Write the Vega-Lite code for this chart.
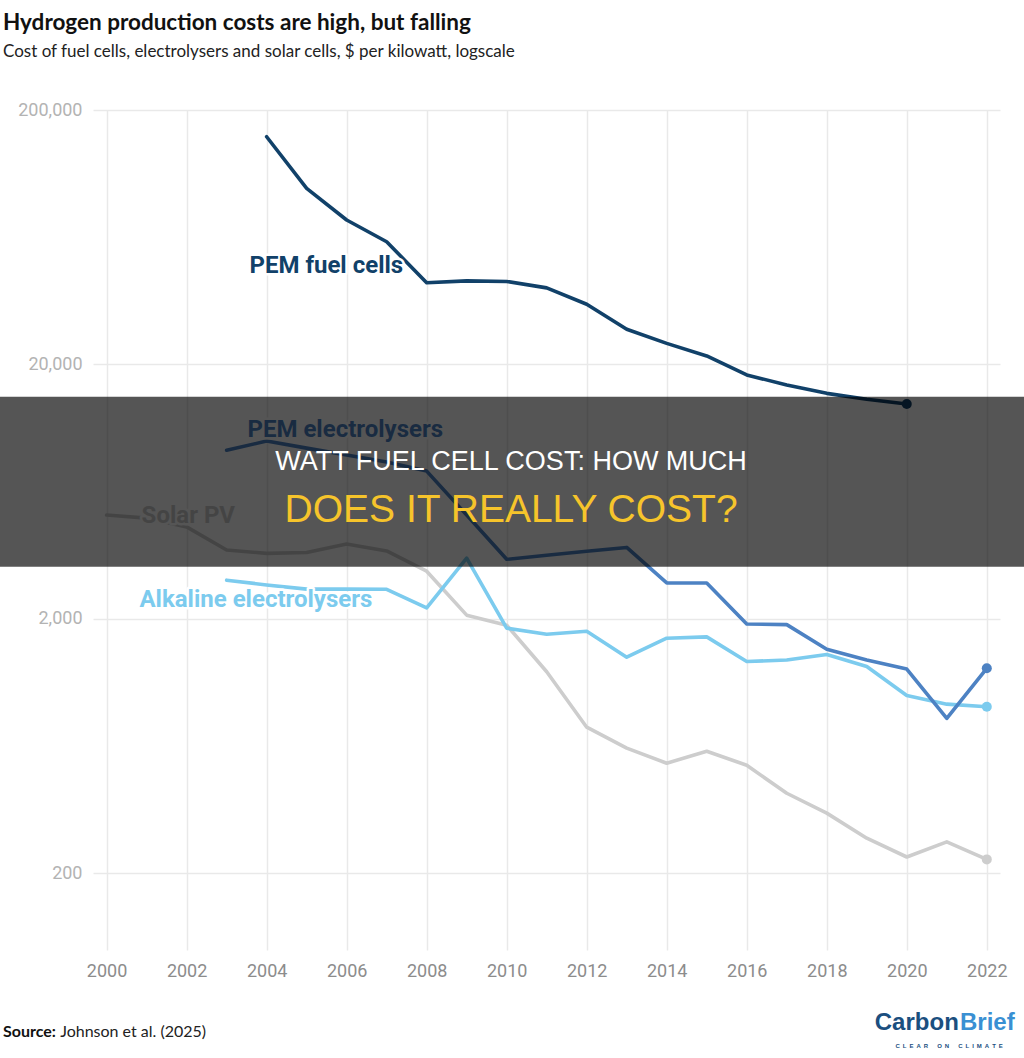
{
  "$schema": "https://vega.github.io/schema/vega-lite/v6.json",
  "width": 907,
  "height": 840,
  "autosize": {"type": "none"},
  "padding": {"left": 93, "top": 110, "right": 24, "bottom": 108},
  "background": "white",
  "config": {
    "view": {"stroke": null},
    "axis": {
      "title": null,
      "ticks": false,
      "domain": false,
      "grid": true,
      "gridColor": "#e9e9e9",
      "gridWidth": 1.5,
      "labelFont": "Roboto",
      "labelFontSize": 18
    }
  },
  "title": {
    "text": "Hydrogen production costs are high, but falling",
    "subtitle": "Cost of fuel cells, electrolysers and solar cells, $ per kilowatt, logscale",
    "anchor": "start",
    "frame": "group",
    "dx": -90,
    "offset": 41,
    "font": "Lato",
    "fontSize": 22.5,
    "fontWeight": "bold",
    "color": "#111111",
    "subtitleFont": "Lato",
    "subtitleFontSize": 17,
    "subtitleColor": "#222222",
    "subtitlePadding": 10
  },
  "datasets": {
    "series": [
      {"series": "Solar PV", "year": 2000, "cost": 5120},
      {"series": "Solar PV", "year": 2001, "cost": 4980},
      {"series": "Solar PV", "year": 2002, "cost": 4600},
      {"series": "Solar PV", "year": 2003, "cost": 3730},
      {"series": "Solar PV", "year": 2004, "cost": 3620},
      {"series": "Solar PV", "year": 2005, "cost": 3650},
      {"series": "Solar PV", "year": 2006, "cost": 3940},
      {"series": "Solar PV", "year": 2007, "cost": 3700},
      {"series": "Solar PV", "year": 2008, "cost": 3080},
      {"series": "Solar PV", "year": 2009, "cost": 2070},
      {"series": "Solar PV", "year": 2010, "cost": 1890},
      {"series": "Solar PV", "year": 2011, "cost": 1240},
      {"series": "Solar PV", "year": 2012, "cost": 751},
      {"series": "Solar PV", "year": 2013, "cost": 621},
      {"series": "Solar PV", "year": 2014, "cost": 542},
      {"series": "Solar PV", "year": 2015, "cost": 604},
      {"series": "Solar PV", "year": 2016, "cost": 532},
      {"series": "Solar PV", "year": 2017, "cost": 413},
      {"series": "Solar PV", "year": 2018, "cost": 345},
      {"series": "Solar PV", "year": 2019, "cost": 275},
      {"series": "Solar PV", "year": 2020, "cost": 232},
      {"series": "Solar PV", "year": 2021, "cost": 266},
      {"series": "Solar PV", "year": 2022, "cost": 227},
      {"series": "Alkaline electrolysers", "year": 2003, "cost": 2840},
      {"series": "Alkaline electrolysers", "year": 2004, "cost": 2720},
      {"series": "Alkaline electrolysers", "year": 2005, "cost": 2620},
      {"series": "Alkaline electrolysers", "year": 2006, "cost": 2620},
      {"series": "Alkaline electrolysers", "year": 2007, "cost": 2615},
      {"series": "Alkaline electrolysers", "year": 2008, "cost": 2210},
      {"series": "Alkaline electrolysers", "year": 2009, "cost": 3470},
      {"series": "Alkaline electrolysers", "year": 2010, "cost": 1840},
      {"series": "Alkaline electrolysers", "year": 2011, "cost": 1740},
      {"series": "Alkaline electrolysers", "year": 2012, "cost": 1790},
      {"series": "Alkaline electrolysers", "year": 2013, "cost": 1415},
      {"series": "Alkaline electrolysers", "year": 2014, "cost": 1680},
      {"series": "Alkaline electrolysers", "year": 2015, "cost": 1700},
      {"series": "Alkaline electrolysers", "year": 2016, "cost": 1360},
      {"series": "Alkaline electrolysers", "year": 2017, "cost": 1380},
      {"series": "Alkaline electrolysers", "year": 2018, "cost": 1450},
      {"series": "Alkaline electrolysers", "year": 2019, "cost": 1300},
      {"series": "Alkaline electrolysers", "year": 2020, "cost": 1000},
      {"series": "Alkaline electrolysers", "year": 2021, "cost": 925},
      {"series": "Alkaline electrolysers", "year": 2022, "cost": 903},
      {"series": "PEM electrolysers", "year": 2003, "cost": 9200},
      {"series": "PEM electrolysers", "year": 2004, "cost": 10000},
      {"series": "PEM electrolysers", "year": 2005, "cost": 9380},
      {"series": "PEM electrolysers", "year": 2006, "cost": 8810},
      {"series": "PEM electrolysers", "year": 2007, "cost": 8270},
      {"series": "PEM electrolysers", "year": 2008, "cost": 7620},
      {"series": "PEM electrolysers", "year": 2009, "cost": 5120},
      {"series": "PEM electrolysers", "year": 2010, "cost": 3430},
      {"series": "PEM electrolysers", "year": 2011, "cost": 3560},
      {"series": "PEM electrolysers", "year": 2012, "cost": 3690},
      {"series": "PEM electrolysers", "year": 2013, "cost": 3820},
      {"series": "PEM electrolysers", "year": 2014, "cost": 2770},
      {"series": "PEM electrolysers", "year": 2015, "cost": 2770},
      {"series": "PEM electrolysers", "year": 2016, "cost": 1910},
      {"series": "PEM electrolysers", "year": 2017, "cost": 1900},
      {"series": "PEM electrolysers", "year": 2018, "cost": 1520},
      {"series": "PEM electrolysers", "year": 2019, "cost": 1380},
      {"series": "PEM electrolysers", "year": 2020, "cost": 1270},
      {"series": "PEM electrolysers", "year": 2021, "cost": 813},
      {"series": "PEM electrolysers", "year": 2022, "cost": 1280},
      {"series": "PEM fuel cells", "year": 2004, "cost": 157000},
      {"series": "PEM fuel cells", "year": 2005, "cost": 98400},
      {"series": "PEM fuel cells", "year": 2006, "cost": 73900},
      {"series": "PEM fuel cells", "year": 2007, "cost": 60700},
      {"series": "PEM fuel cells", "year": 2008, "cost": 41900},
      {"series": "PEM fuel cells", "year": 2009, "cost": 42600},
      {"series": "PEM fuel cells", "year": 2010, "cost": 42400},
      {"series": "PEM fuel cells", "year": 2011, "cost": 40000},
      {"series": "PEM fuel cells", "year": 2012, "cost": 34500},
      {"series": "PEM fuel cells", "year": 2013, "cost": 27500},
      {"series": "PEM fuel cells", "year": 2014, "cost": 24200},
      {"series": "PEM fuel cells", "year": 2015, "cost": 21600},
      {"series": "PEM fuel cells", "year": 2016, "cost": 18200},
      {"series": "PEM fuel cells", "year": 2017, "cost": 16600},
      {"series": "PEM fuel cells", "year": 2018, "cost": 15400},
      {"series": "PEM fuel cells", "year": 2019, "cost": 14600},
      {"series": "PEM fuel cells", "year": 2020, "cost": 13980}
    ],
    "endpoints": [
      {"series": "Solar PV", "year": 2022, "cost": 227},
      {"series": "Alkaline electrolysers", "year": 2022, "cost": 903},
      {"series": "PEM electrolysers", "year": 2022, "cost": 1280},
      {"series": "PEM fuel cells", "year": 2020, "cost": 13980}
    ],
    "labels": [
      {"series": "Solar PV", "year": 2000.875, "cost": 4772},
      {"series": "Alkaline electrolysers", "year": 2000.82, "cost": 2231},
      {"series": "PEM electrolysers", "year": 2003.52, "cost": 10330},
      {"series": "PEM fuel cells", "year": 2003.57, "cost": 45870}
    ]
  },
  "layer": [
    {
      "data": {"name": "series"},
      "mark": {"type": "line", "strokeWidth": 3.6, "strokeJoin": "round", "strokeCap": "round"},
      "encoding": {
        "x": {
          "field": "year",
          "type": "quantitative",
          "scale": {"domain": [1999.66, 2022.33], "nice": false, "zero": false},
          "axis": {
            "values": [2000, 2002, 2004, 2006, 2008, 2010, 2012, 2014, 2016, 2018, 2020, 2022],
            "format": "d",
            "labelColor": "#8c8c8c",
            "labelPadding": 12
          }
        },
        "y": {
          "field": "cost",
          "type": "quantitative",
          "scale": {"type": "log", "domain": [100, 200000], "nice": false},
          "axis": {
            "values": [200, 2000, 20000, 200000],
            "format": ",",
            "labelColor": "#b3b3b3",
            "labelPadding": 11
          }
        },
        "color": {
          "field": "series",
          "type": "nominal",
          "scale": {
            "domain": ["Solar PV", "Alkaline electrolysers", "PEM electrolysers", "PEM fuel cells"],
            "range": ["#cdcdcd", "#7ccbee", "#4d82c3", "#114169"]
          },
          "legend": null
        }
      }
    },
    {
      "data": {"name": "endpoints"},
      "mark": {"type": "point", "filled": true, "opacity": 1, "size": 100},
      "encoding": {
        "x": {"field": "year", "type": "quantitative"},
        "y": {"field": "cost", "type": "quantitative"},
        "color": {"field": "series", "type": "nominal"}
      }
    },
    {
      "data": {"name": "labels"},
      "mark": {"type": "text", "font": "Roboto", "fontSize": 24, "fontWeight": "bold", "align": "left", "baseline": "alphabetic", "stroke": "white", "strokeWidth": 5, "strokeJoin": "round", "fill": "white"},
      "encoding": {
        "x": {"field": "year", "type": "quantitative"},
        "y": {"field": "cost", "type": "quantitative"},
        "text": {"field": "series"}
      }
    },
    {
      "data": {"name": "labels"},
      "mark": {"type": "text", "font": "Roboto", "fontSize": 24, "fontWeight": "bold", "align": "left", "baseline": "alphabetic"},
      "encoding": {
        "x": {"field": "year", "type": "quantitative"},
        "y": {"field": "cost", "type": "quantitative"},
        "text": {"field": "series"},
        "color": {
          "field": "series",
          "type": "nominal",
          "scale": {
            "domain": ["Solar PV", "Alkaline electrolysers", "PEM electrolysers", "PEM fuel cells"],
            "range": ["#c2c2c2", "#7ccbee", "#4d82c3", "#114169"]
          },
          "legend": null
        }
      }
    },
    {
      "data": {"values": [{}]},
      "mark": {"type": "rect", "color": "#000000", "opacity": 0.667},
      "encoding": {
        "x": {"datum": 1997.3},
        "x2": {"datum": 2023.0},
        "y": {"datum": 14928},
        "y2": {"datum": 3204}
      }
    },
    {
      "data": {"values": [{}]},
      "mark": {"type": "text", "text": "WATT FUEL CELL COST: HOW MUCH", "font": "Liberation Sans", "fontSize": 27, "color": "#ffffff", "align": "center", "baseline": "alphabetic"},
      "encoding": {"x": {"datum": 2010.11}, "y": {"datum": 7726}}
    },
    {
      "data": {"values": [{}]},
      "mark": {"type": "text", "text": "DOES IT REALLY COST?", "font": "Liberation Sans", "fontSize": 39, "color": "#f6c42b", "align": "center", "baseline": "alphabetic"},
      "encoding": {"x": {"datum": 2010.11}, "y": {"datum": 4817}}
    },
    {
      "data": {"values": [{}]},
      "mark": {"type": "text", "text": "Source:", "font": "Lato", "fontSize": 16, "fontWeight": "bold", "color": "#111111", "align": "left", "baseline": "alphabetic"},
      "encoding": {"x": {"datum": 1997.41}, "y": {"datum": 45.5}}
    },
    {
      "data": {"values": [{}]},
      "mark": {"type": "text", "text": "Johnson et al. (2025)", "font": "Lato", "fontSize": 16, "color": "#222222", "align": "left", "baseline": "alphabetic"},
      "encoding": {"x": {"datum": 1998.84}, "y": {"datum": 45.5}}
    },
    {
      "data": {"values": [{}]},
      "mark": {"type": "text", "text": "Carbon", "font": "Liberation Sans", "fontSize": 24, "fontWeight": "bold", "color": "#1b4f7f", "align": "right", "baseline": "alphabetic"},
      "encoding": {"x": {"datum": 2021.3}, "y": {"datum": 48.6}}
    },
    {
      "data": {"values": [{}]},
      "mark": {"type": "text", "text": "Brief", "font": "Liberation Sans", "fontSize": 24, "fontWeight": "bold", "color": "#3a90d3", "align": "left", "baseline": "alphabetic"},
      "encoding": {"x": {"datum": 2021.33}, "y": {"datum": 48.6}}
    },
    {
      "data": {"values": [{}]},
      "mark": {"type": "text", "text": "C\u2002L\u2002E\u2002A\u2002R\u2003\u2002O\u2002N\u2003\u2002C\u2002L\u2002I\u2002M\u2002A\u2002T\u2002E", "font": "Liberation Sans", "fontSize": 6, "fontWeight": "bold", "color": "#1b4f7f", "align": "center", "baseline": "alphabetic"},
      "encoding": {"x": {"datum": 2021.06}, "y": {"datum": 41.1}}
    }
  ]
}
